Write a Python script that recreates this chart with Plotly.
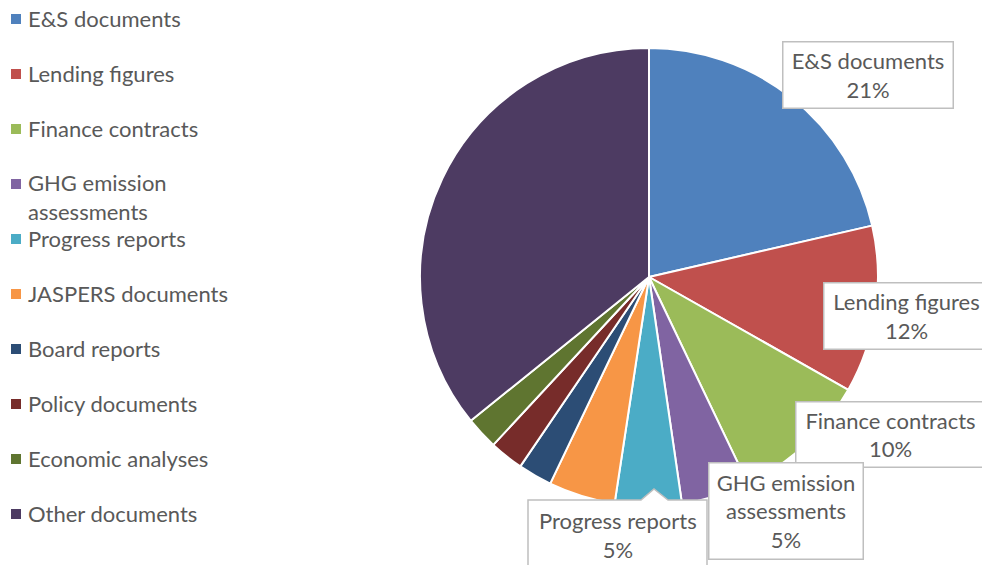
import plotly.graph_objects as go

# Share of documents by type (percent)
categories = [
    "E&S documents", "Lending figures", "Finance contracts",
    "GHG emission assessments", "Progress reports", "JASPERS documents",
    "Board reports", "Policy documents", "Economic analyses", "Other documents",
]
shares = [21.4, 11.8, 9.7, 4.8, 4.7, 4.7, 2.4, 2.4, 2.3, 35.8]
colors = [
    "#4F81BD", "#C0504D", "#9BBB59", "#8064A2", "#4BACC6",
    "#F79646", "#2C4D75", "#772C2A", "#5F7530", "#4D3B62",
]
# Legend text (line breaks as displayed)
legend_text = [c if c != "GHG emission assessments" else "GHG emission<br>assessments"
               for c in categories]

W, H = 982, 565
FONT = "Lato"
TXT = "#595959"
FS = 22


def px(x):
    return x / W


def py(y):
    return 1 - y / H


# Pie geometry in pixels
cx, cy, r = 649, 277, 229

fig = go.Figure(go.Pie(
    labels=categories,
    values=shares,
    sort=False,
    direction="clockwise",
    rotation=0,
    marker=dict(colors=colors, line=dict(color="white", width=2)),
    textinfo="none",
    hoverinfo="label+percent",
    domain=dict(x=[px(cx - r), px(cx + r)], y=[py(cy + r), py(cy - r)]),
    showlegend=False,
))

shapes = []
annotations = []

# Legend: coloured square plus text for each category
for i, (lab, col) in enumerate(zip(legend_text, colors)):
    yc = 19 + 55 * i
    shapes.append(dict(type="rect", xref="paper", yref="paper",
                       x0=px(11), x1=px(21), y0=py(yc + 5), y1=py(yc - 5),
                       fillcolor=col, line=dict(width=0)))
    ty = yc + 14 if "<br>" in lab else yc
    annotations.append(dict(xref="paper", yref="paper", x=px(28), y=py(ty - 1),
                            xanchor="left", yanchor="middle", showarrow=False,
                            text=lab, align="left",
                            font=dict(family=FONT, size=FS, color=TXT),
                            borderpad=0, borderwidth=0))

total = sum(shares)


def pct(i):
    return f"{round(shares[i] / total * 100)}%"


# Data label boxes: (index, left, top, right, bottom, text)
boxes = [
    (0, 782, 43, 953, 110, f"{categories[0]}<br>{pct(0)}"),
    (1, 823, 283, 989, 350, f"{categories[1]}<br>{pct(1)}"),
    (2, 795, 402, 985, 468, f"{categories[2]}<br>{pct(2)}"),
    (3, 708, 463, 863, 560, f"GHG emission<br>assessments<br>{pct(3)}"),
]
for i, x0, y0, x1, y1, t in boxes:
    annotations.append(dict(xref="paper", yref="paper",
                            x=px((x0 + x1) / 2), y=py((y0 + y1) / 2 - 1),
                            xanchor="center", yanchor="middle", showarrow=False,
                            text=t, align="center", valign="middle",
                            width=x1 - x0 - 2, height=y1 - y0 - 2,
                            bgcolor="white", bordercolor="#BFBFBF",
                            borderwidth=1.5, borderpad=0,
                            font=dict(family=FONT, size=FS, color=TXT)))

# Callout box with a pointer for the Progress reports label
bl, bt, br, bb = 528, 500, 707, 570
nl, nt, nr, nx = 641, 489, 668, 654
path = (f"M {px(bl)},{py(bb)} L {px(bl)},{py(bt)} L {px(nl)},{py(bt)} "
        f"L {px(nx)},{py(nt)} L {px(nr)},{py(bt)} L {px(br)},{py(bt)} "
        f"L {px(br)},{py(bb)} Z")
shapes.append(dict(type="path", xref="paper", yref="paper", path=path,
                   fillcolor="white", line=dict(color="#BFBFBF", width=1.5),
                   layer="above"))
annotations.append(dict(xref="paper", yref="paper", x=px((bl + br) / 2), y=py(534.5),
                        xanchor="center", yanchor="middle", showarrow=False,
                        text=f"{categories[4]}<br>{pct(4)}", align="center",
                        font=dict(family=FONT, size=FS, color=TXT),
                        borderpad=0, borderwidth=0))

fig.update_layout(
    width=W, height=H,
    margin=dict(l=0, r=0, t=0, b=0),
    paper_bgcolor="white", plot_bgcolor="white",
    shapes=shapes, annotations=annotations,
    font=dict(family=FONT, color=TXT),
)

fig.write_html("out.html")
